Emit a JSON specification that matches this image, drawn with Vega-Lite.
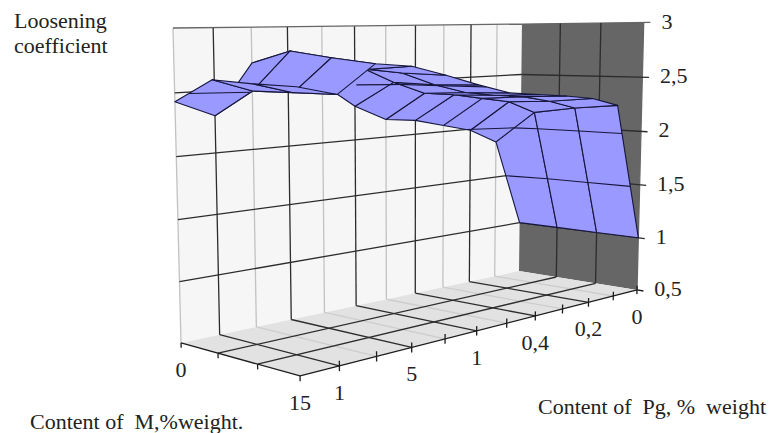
{
  "$schema": "https://vega.github.io/schema/vega-lite/v6.json",
  "description": "Perspective surface of the loosening coefficient over Pg and M content. Rows hold grid positions and coefficient values; calculate steps project them onto the page.",
  "width": 778,
  "height": 433,
  "autosize": {"type": "none", "contains": "padding"},
  "padding": 0,
  "background": "#ffffff",
  "view": {"stroke": null},
  "config": {"text": {"font": "Liberation Serif", "fontSize": 22, "fill": "#222222"}},
  "datasets": {
    "frame": [
      {"part": "back", "n": 1, "pg": 11, "m": 0, "v": 0.5},
      {"part": "back", "n": 2, "pg": 0, "m": 0, "v": 0.5},
      {"part": "back", "n": 3, "pg": 0, "m": 0, "v": 3},
      {"part": "back", "n": 4, "pg": 11, "m": 0, "v": 3},
      {"part": "side", "n": 1, "pg": 0, "m": 0, "v": 0.5},
      {"part": "side", "n": 2, "pg": 0, "m": 3, "v": 0.5},
      {"part": "side", "n": 3, "pg": 0, "m": 3, "v": 3},
      {"part": "side", "n": 4, "pg": 0, "m": 0, "v": 3},
      {"part": "floor", "n": 1, "pg": 0, "m": 0, "v": 0.5},
      {"part": "floor", "n": 2, "pg": 11, "m": 0, "v": 0.5},
      {"part": "floor", "n": 3, "pg": 11, "m": 3, "v": 0.5},
      {"part": "floor", "n": 4, "pg": 0, "m": 3, "v": 0.5}
    ],
    "grid": [
      {"kind": "floorminor", "pg": 1, "m": 0, "v": 0.5, "pg2": 1, "m2": 3, "v2": 0.5},
      {"kind": "floorminor", "pg": 3, "m": 0, "v": 0.5, "pg2": 3, "m2": 3, "v2": 0.5},
      {"kind": "floorminor", "pg": 5, "m": 0, "v": 0.5, "pg2": 5, "m2": 3, "v2": 0.5},
      {"kind": "floorminor", "pg": 7, "m": 0, "v": 0.5, "pg2": 7, "m2": 3, "v2": 0.5},
      {"kind": "floorminor", "pg": 9, "m": 0, "v": 0.5, "pg2": 9, "m2": 3, "v2": 0.5},
      {"kind": "minor", "pg": 1, "m": 0, "v": 0.5, "pg2": 1, "m2": 0, "v2": 3},
      {"kind": "minor", "pg": 3, "m": 0, "v": 0.5, "pg2": 3, "m2": 0, "v2": 3},
      {"kind": "minor", "pg": 5, "m": 0, "v": 0.5, "pg2": 5, "m2": 0, "v2": 3},
      {"kind": "minor", "pg": 7, "m": 0, "v": 0.5, "pg2": 7, "m2": 0, "v2": 3},
      {"kind": "minor", "pg": 9, "m": 0, "v": 0.5, "pg2": 9, "m2": 0, "v2": 3},
      {"kind": "minor", "pg": 11, "m": 0, "v": 0.5, "pg2": 11, "m2": 0, "v2": 3},
      {"kind": "edge", "pg": 11, "m": 0, "v": 3, "pg2": 0, "m2": 0, "v2": 3},
      {"kind": "edge", "pg": 0, "m": 0, "v": 3, "pg2": 0, "m2": 3.15, "v2": 3},
      {"kind": "edge", "pg": 0, "m": 3, "v": 0.5, "pg2": 0, "m2": 3, "v2": 3},
      {"kind": "major", "pg": 2, "m": 0, "v": 0.5, "pg2": 2, "m2": 0, "v2": 3},
      {"kind": "major", "pg": 4, "m": 0, "v": 0.5, "pg2": 4, "m2": 0, "v2": 3},
      {"kind": "major", "pg": 6, "m": 0, "v": 0.5, "pg2": 6, "m2": 0, "v2": 3},
      {"kind": "major", "pg": 8, "m": 0, "v": 0.5, "pg2": 8, "m2": 0, "v2": 3},
      {"kind": "major", "pg": 10, "m": 0, "v": 0.5, "pg2": 10, "m2": 0, "v2": 3},
      {"kind": "major", "pg": 0, "m": 1, "v": 0.5, "pg2": 0, "m2": 1, "v2": 3},
      {"kind": "major", "pg": 0, "m": 2, "v": 0.5, "pg2": 0, "m2": 2, "v2": 3},
      {"kind": "major", "pg": 11, "m": 0, "v": 1, "pg2": 0, "m2": 0, "v2": 1},
      {"kind": "major", "pg": 0, "m": 0, "v": 1, "pg2": 0, "m2": 3.15, "v2": 1},
      {"kind": "major", "pg": 11, "m": 0, "v": 1.5, "pg2": 0, "m2": 0, "v2": 1.5},
      {"kind": "major", "pg": 0, "m": 0, "v": 1.5, "pg2": 0, "m2": 3.15, "v2": 1.5},
      {"kind": "major", "pg": 11, "m": 0, "v": 2, "pg2": 0, "m2": 0, "v2": 2},
      {"kind": "major", "pg": 0, "m": 0, "v": 2, "pg2": 0, "m2": 3.15, "v2": 2},
      {"kind": "major", "pg": 11, "m": 0, "v": 2.5, "pg2": 0, "m2": 0, "v2": 2.5},
      {"kind": "major", "pg": 0, "m": 0, "v": 2.5, "pg2": 0, "m2": 3.15, "v2": 2.5},
      {"kind": "major", "pg": 0, "m": 1, "v": 0.5, "pg2": 11, "m2": 1, "v2": 0.5},
      {"kind": "major", "pg": 0, "m": 2, "v": 0.5, "pg2": 11, "m2": 2, "v2": 0.5},
      {"kind": "major", "pg": 2, "m": 0, "v": 0.5, "pg2": 2, "m2": 3, "v2": 0.5},
      {"kind": "major", "pg": 4, "m": 0, "v": 0.5, "pg2": 4, "m2": 3, "v2": 0.5},
      {"kind": "major", "pg": 6, "m": 0, "v": 0.5, "pg2": 6, "m2": 3, "v2": 0.5},
      {"kind": "major", "pg": 8, "m": 0, "v": 0.5, "pg2": 8, "m2": 3, "v2": 0.5},
      {"kind": "major", "pg": 10, "m": 0, "v": 0.5, "pg2": 10, "m2": 3, "v2": 0.5},
      {"kind": "axis", "pg": 0, "m": 3, "v": 0.5, "pg2": 11, "m2": 3, "v2": 0.5},
      {"kind": "axis", "pg": 11, "m": 0, "v": 0.5, "pg2": 11, "m2": 3, "v2": 0.5},
      {"kind": "axis", "pg": 0, "m": 3, "v": 0.5, "pg2": 0, "m2": 3.15, "v2": 0.5},
      {"kind": "axis", "pg": 0, "m": 3, "v": 0.46, "pg2": 0, "m2": 3, "v2": 0.54},
      {"kind": "axis", "pg": 1, "m": 3, "v": 0.46, "pg2": 1, "m2": 3, "v2": 0.54},
      {"kind": "axis", "pg": 2, "m": 3, "v": 0.46, "pg2": 2, "m2": 3, "v2": 0.54},
      {"kind": "axis", "pg": 3, "m": 3, "v": 0.46, "pg2": 3, "m2": 3, "v2": 0.54},
      {"kind": "axis", "pg": 4, "m": 3, "v": 0.46, "pg2": 4, "m2": 3, "v2": 0.54},
      {"kind": "axis", "pg": 5, "m": 3, "v": 0.46, "pg2": 5, "m2": 3, "v2": 0.54},
      {"kind": "axis", "pg": 6, "m": 3, "v": 0.46, "pg2": 6, "m2": 3, "v2": 0.54},
      {"kind": "axis", "pg": 7, "m": 3, "v": 0.46, "pg2": 7, "m2": 3, "v2": 0.54},
      {"kind": "axis", "pg": 8, "m": 3, "v": 0.46, "pg2": 8, "m2": 3, "v2": 0.54},
      {"kind": "axis", "pg": 9, "m": 3, "v": 0.46, "pg2": 9, "m2": 3, "v2": 0.54},
      {"kind": "axis", "pg": 10, "m": 3, "v": 0.46, "pg2": 10, "m2": 3, "v2": 0.54},
      {"kind": "axis", "pg": 11, "m": 3, "v": 0.46, "pg2": 11, "m2": 3, "v2": 0.5},
      {"kind": "axis", "pg": 11, "m": 0, "v": 0.46, "pg2": 11, "m2": 0, "v2": 0.5},
      {"kind": "axis", "pg": 11, "m": 1, "v": 0.46, "pg2": 11, "m2": 1, "v2": 0.5},
      {"kind": "axis", "pg": 11, "m": 2, "v": 0.46, "pg2": 11, "m2": 2, "v2": 0.5}
    ],
    "cells": [
      {"pg0": 0, "m0": 0, "a": 1, "b": 1.85, "c": 2.16, "d": 1, "e": 1},
      {"pg0": 0, "m0": 1, "a": 1, "b": 2.16, "c": 2.22, "d": 1, "e": 1},
      {"pg0": 0, "m0": 2, "a": 1, "b": 2.22, "c": 2.26, "d": 1, "e": 1},
      {"pg0": 1, "m0": 0, "a": 1.85, "b": 1.99, "c": 2.28, "d": 2.16, "e": 1.85},
      {"pg0": 1, "m0": 1, "a": 2.16, "b": 2.28, "c": 2.3, "d": 2.22, "e": 2.16},
      {"pg0": 1, "m0": 2, "a": 2.22, "b": 2.3, "c": 2.34, "d": 2.26, "e": 2.22},
      {"pg0": 2, "m0": 0, "a": 1.99, "b": 2.06, "c": 2.33, "d": 2.28, "e": 1.99},
      {"pg0": 2, "m0": 1, "a": 2.28, "b": 2.33, "c": 2.36, "d": 2.3, "e": 2.28},
      {"pg0": 2, "m0": 2, "a": 2.3, "b": 2.36, "c": 2.38, "d": 2.34, "e": 2.3},
      {"pg0": 3, "m0": 0, "a": 2.06, "b": 2.13, "c": 2.38, "d": 2.33, "e": 2.06},
      {"pg0": 3, "m0": 1, "a": 2.33, "b": 2.38, "c": 2.39, "d": 2.36, "e": 2.33},
      {"pg0": 3, "m0": 2, "a": 2.36, "b": 2.39, "c": 2.41, "d": 2.38, "e": 2.36},
      {"pg0": 4, "m0": 0, "a": 2.13, "b": 2.16, "c": 2.41, "d": 2.38, "e": 2.13},
      {"pg0": 4, "m0": 1, "a": 2.38, "b": 2.41, "c": 2.43, "d": 2.39, "e": 2.38},
      {"pg0": 4, "m0": 2, "a": 2.39, "b": 2.43, "c": 2.44, "d": 2.41, "e": 2.39},
      {"pg0": 5, "m0": 0, "a": 2.16, "b": 2.3, "c": 2.52, "d": 2.41, "e": 2.16},
      {"pg0": 5, "m0": 1, "a": 2.41, "b": 2.52, "c": 2.51, "d": 2.43, "e": 2.41},
      {"pg0": 5, "m0": 2, "a": 2.43, "b": 2.51, "c": 2.52, "d": 2.44, "e": 2.43},
      {"pg0": 6, "m0": 0, "a": 2.3, "b": 2.51, "c": 2.66, "d": 2.52, "e": 2.3},
      {"pg0": 6, "m0": 1, "a": 2.52, "b": 2.66, "c": 2.62, "d": 2.51, "e": 2.52},
      {"pg0": 6, "m0": 2, "a": 2.51, "b": 2.62, "c": 2.61, "d": 2.52, "e": 2.51},
      {"pg0": 7, "m0": 0, "a": 2.51, "b": 2.64, "c": 2.73, "d": 2.66, "e": 2.51},
      {"pg0": 7, "m0": 1, "a": 2.66, "b": 2.73, "c": 2.66, "d": 2.62, "e": 2.66},
      {"pg0": 7, "m0": 2, "a": 2.62, "b": 2.66, "c": 2.69, "d": 2.61, "e": 2.62},
      {"pg0": 8, "m0": 0, "a": 2.64, "b": 2.71, "c": 2.81, "d": 2.73, "e": 2.64},
      {"pg0": 8, "m0": 1, "a": 2.73, "b": 2.81, "c": 2.76, "d": 2.66, "e": 2.73},
      {"pg0": 8, "m0": 2, "a": 2.66, "b": 2.76, "c": 2.72, "d": 2.69, "e": 2.66},
      {"pg0": 9, "m0": 0, "a": 2.71, "b": 2.3, "c": 2.51, "d": 2.81, "e": 2.71},
      {"pg0": 9, "m0": 1, "a": 2.81, "b": 2.51, "c": 2.51, "d": 2.76, "e": 2.81},
      {"pg0": 9, "m0": 2, "a": 2.76, "b": 2.51, "c": 2.51, "d": 2.72, "e": 2.76},
      {"pg0": 10, "m0": 0, "a": 2.3, "b": 2.43, "c": 2.61, "d": 2.51, "e": 2.3},
      {"pg0": 10, "m0": 1, "a": 2.51, "b": 2.61, "c": 2.59, "d": 2.51, "e": 2.51},
      {"pg0": 10, "m0": 2, "a": 2.51, "b": 2.59, "c": 2.58, "d": 2.51, "e": 2.51}
    ],
    "contours": [
      {"pg": 0.588, "m": 0, "v": 1.5, "pg2": 0.431, "m2": 1, "v2": 1.5},
      {"pg": 0.431, "m": 1, "v": 1.5, "pg2": 0.41, "m2": 2, "v2": 1.5},
      {"pg": 0.41, "m": 2, "v": 1.5, "pg2": 0.397, "m2": 3, "v2": 1.5},
      {"pg": 2.14, "m": 0, "v": 2, "pg2": 1, "m2": 0.48, "v2": 2},
      {"pg": 1, "m": 0.48, "v": 2, "pg2": 0.862, "m2": 1, "v2": 2},
      {"pg": 0.862, "m": 1, "v": 2, "pg2": 0.82, "m2": 2, "v2": 2},
      {"pg": 0.82, "m": 2, "v": 2, "pg2": 0.794, "m2": 3, "v2": 2},
      {"pg": 11, "m": 0.39, "v": 2.5, "pg2": 10, "m2": 0.95, "v2": 2.5},
      {"pg": 6.48, "m": 0.445, "v": 2.5, "pg2": 6, "m2": 0.91, "v2": 2.5},
      {"pg": 6, "m": 0.91, "v": 2.5, "pg2": 5.82, "m2": 1, "v2": 2.5},
      {"pg": 5.82, "m": 1, "v": 2.5, "pg2": 5.875, "m2": 2, "v2": 2.5},
      {"pg": 5.875, "m": 2, "v": 2.5, "pg2": 5.75, "m2": 3, "v2": 2.5}
    ],
    "valueLabels": [
      {"label": "0,5", "pg": 0, "m": 3.4, "v": 0.5},
      {"label": "1", "pg": 0, "m": 3.4, "v": 1},
      {"label": "1,5", "pg": 0, "m": 3.4, "v": 1.5},
      {"label": "2", "pg": 0, "m": 3.4, "v": 2},
      {"label": "2,5", "pg": 0, "m": 3.4, "v": 2.5},
      {"label": "3", "pg": 0, "m": 3.4, "v": 3}
    ],
    "floorLabels": [
      {"label": "0", "pg": 0, "m": 3, "v": 0.5},
      {"label": "0,2", "pg": 2, "m": 3, "v": 0.5},
      {"label": "0,4", "pg": 4, "m": 3, "v": 0.5},
      {"label": "1", "pg": 6, "m": 3, "v": 0.5},
      {"label": "5", "pg": 8, "m": 3, "v": 0.5},
      {"label": "1", "pg": 10, "m": 3, "v": 0.5},
      {"label": "0", "pg": 11, "m": 0, "v": 0.5},
      {"label": "15", "pg": 11, "m": 3, "v": 0.5}
    ]
  },
  "encoding": {
    "x": {"field": "sx", "type": "quantitative", "scale": {"domain": [0, 778], "nice": false, "zero": false}, "axis": null},
    "y": {"field": "sy", "type": "quantitative", "scale": {"domain": [433, 0], "nice": false, "zero": false}, "axis": null}
  },
  "layer": [
    {
      "data": {"name": "frame"},
      "transform": [
        {"calculate": "(519-378.7*datum.pg/11+69.3*datum.m/3-10.8*(datum.v-0.5)/2.5)/(1-0.225*datum.pg/11-0.07646*datum.m/3-0.0264*(datum.v-0.5)/2.5)", "as": "sx"},
        {"calculate": "(271-5.2*datum.pg/11-3.2*datum.m/3-247.6*(datum.v-0.5)/2.5)/(1-0.225*datum.pg/11-0.07646*datum.m/3-0.0264*(datum.v-0.5)/2.5)+3.7*(datum.pg/11)*(datum.v-0.5)/2.5", "as": "sy"}
      ],
      "mark": {"type": "line", "strokeWidth": 0},
      "encoding": {
        "order": {"field": "n", "type": "quantitative"},
        "fill": {"field": "part", "type": "nominal", "scale": {"domain": ["back", "side", "floor"], "range": ["#f6f6f6", "#666666", "#e2e2e2"]}, "legend": null}
      }
    },
    {
      "data": {"name": "grid"},
      "transform": [
        {"calculate": "(519-378.7*datum.pg/11+69.3*datum.m/3-10.8*(datum.v-0.5)/2.5)/(1-0.225*datum.pg/11-0.07646*datum.m/3-0.0264*(datum.v-0.5)/2.5)", "as": "sx"},
        {"calculate": "(271-5.2*datum.pg/11-3.2*datum.m/3-247.6*(datum.v-0.5)/2.5)/(1-0.225*datum.pg/11-0.07646*datum.m/3-0.0264*(datum.v-0.5)/2.5)+3.7*(datum.pg/11)*(datum.v-0.5)/2.5", "as": "sy"},
        {"calculate": "(519-378.7*datum.pg2/11+69.3*datum.m2/3-10.8*(datum.v2-0.5)/2.5)/(1-0.225*datum.pg2/11-0.07646*datum.m2/3-0.0264*(datum.v2-0.5)/2.5)", "as": "sx2"},
        {"calculate": "(271-5.2*datum.pg2/11-3.2*datum.m2/3-247.6*(datum.v2-0.5)/2.5)/(1-0.225*datum.pg2/11-0.07646*datum.m2/3-0.0264*(datum.v2-0.5)/2.5)+3.7*(datum.pg2/11)*(datum.v2-0.5)/2.5", "as": "sy2"}
      ],
      "mark": {"type": "rule", "strokeWidth": 1.3},
      "encoding": {
        "x2": {"field": "sx2"},
        "y2": {"field": "sy2"},
        "color": {"field": "kind", "type": "nominal", "scale": {"domain": ["floorminor", "minor", "edge", "major", "axis"], "range": ["#cdcdcd", "#c2c2c2", "#666666", "#2c2c2c", "#1c1c1c"]}, "legend": null}
      }
    },
    {
      "data": {"name": "cells"},
      "transform": [
        {"fold": ["a", "b", "c", "d", "e"], "as": ["corner", "v"]},
        {"calculate": "datum.pg0+(datum.corner==='b'||datum.corner==='c'?1:0)", "as": "pg"},
        {"calculate": "datum.m0+(datum.corner==='c'||datum.corner==='d'?1:0)", "as": "m"},
        {"calculate": "datum.pg0+'-'+datum.m0", "as": "cell"},
        {"calculate": "(519-378.7*datum.pg/11+69.3*datum.m/3-10.8*(datum.v-0.5)/2.5)/(1-0.225*datum.pg/11-0.07646*datum.m/3-0.0264*(datum.v-0.5)/2.5)", "as": "sx"},
        {"calculate": "(271-5.2*datum.pg/11-3.2*datum.m/3-247.6*(datum.v-0.5)/2.5)/(1-0.225*datum.pg/11-0.07646*datum.m/3-0.0264*(datum.v-0.5)/2.5)+3.7*(datum.pg/11)*(datum.v-0.5)/2.5", "as": "sy"}
      ],
      "mark": {"type": "line", "fill": "#9999ff", "stroke": "#16163c", "strokeWidth": 1.1, "strokeJoin": "round"},
      "encoding": {
        "detail": {"field": "cell", "type": "nominal"},
        "order": {"field": "corner", "type": "ordinal"}
      }
    },
    {
      "data": {"name": "contours"},
      "transform": [
        {"calculate": "(519-378.7*datum.pg/11+69.3*datum.m/3-10.8*(datum.v-0.5)/2.5)/(1-0.225*datum.pg/11-0.07646*datum.m/3-0.0264*(datum.v-0.5)/2.5)", "as": "sx"},
        {"calculate": "(271-5.2*datum.pg/11-3.2*datum.m/3-247.6*(datum.v-0.5)/2.5)/(1-0.225*datum.pg/11-0.07646*datum.m/3-0.0264*(datum.v-0.5)/2.5)+3.7*(datum.pg/11)*(datum.v-0.5)/2.5", "as": "sy"},
        {"calculate": "(519-378.7*datum.pg2/11+69.3*datum.m2/3-10.8*(datum.v2-0.5)/2.5)/(1-0.225*datum.pg2/11-0.07646*datum.m2/3-0.0264*(datum.v2-0.5)/2.5)", "as": "sx2"},
        {"calculate": "(271-5.2*datum.pg2/11-3.2*datum.m2/3-247.6*(datum.v2-0.5)/2.5)/(1-0.225*datum.pg2/11-0.07646*datum.m2/3-0.0264*(datum.v2-0.5)/2.5)+3.7*(datum.pg2/11)*(datum.v2-0.5)/2.5", "as": "sy2"}
      ],
      "mark": {"type": "rule", "stroke": "#16163c", "strokeWidth": 1.1},
      "encoding": {
        "x2": {"field": "sx2"},
        "y2": {"field": "sy2"}
      }
    },
    {
      "data": {"name": "valueLabels"},
      "transform": [
        {"calculate": "(519-378.7*datum.pg/11+69.3*datum.m/3-10.8*(datum.v-0.5)/2.5)/(1-0.225*datum.pg/11-0.07646*datum.m/3-0.0264*(datum.v-0.5)/2.5)", "as": "sx"},
        {"calculate": "(271-5.2*datum.pg/11-3.2-247.6*(datum.v-0.5)/2.5)/(1-0.225*datum.pg/11-0.07646-0.0264*(datum.v-0.5)/2.5)", "as": "sy"}
      ],
      "mark": {"type": "text", "align": "left", "baseline": "middle", "dy": -1},
      "encoding": {"text": {"field": "label", "type": "nominal"}}
    },
    {
      "data": {"name": "floorLabels"},
      "transform": [
        {"calculate": "(519-378.7*datum.pg/11+69.3*datum.m/3-10.8*(datum.v-0.5)/2.5)/(1-0.225*datum.pg/11-0.07646*datum.m/3-0.0264*(datum.v-0.5)/2.5)", "as": "sx"},
        {"calculate": "(271-5.2*datum.pg/11-3.2*datum.m/3-247.6*(datum.v-0.5)/2.5)/(1-0.225*datum.pg/11-0.07646*datum.m/3-0.0264*(datum.v-0.5)/2.5)", "as": "sy"}
      ],
      "mark": {"type": "text", "align": "center", "baseline": "middle", "dy": 27},
      "encoding": {"text": {"field": "label", "type": "nominal"}}
    },
    {
      "data": {"values": [{"label": "Loosening\ncoefficient", "pg": 11, "m": 0, "v": 3}]},
      "transform": [
        {"calculate": "(519-378.7*datum.pg/11+69.3*datum.m/3-10.8*(datum.v-0.5)/2.5)/(1-0.225*datum.pg/11-0.07646*datum.m/3-0.0264*(datum.v-0.5)/2.5)", "as": "sx"},
        {"calculate": "(271-5.2*datum.pg/11-3.2*datum.m/3-247.6*(datum.v-0.5)/2.5)/(1-0.225*datum.pg/11-0.07646*datum.m/3-0.0264*(datum.v-0.5)/2.5)", "as": "sy"}
      ],
      "mark": {"type": "text", "align": "left", "baseline": "alphabetic", "lineBreak": "\n", "lineHeight": 25, "dx": -159, "dy": 4},
      "encoding": {"text": {"field": "label", "type": "nominal"}}
    },
    {
      "data": {"values": [{"label": "Content of\u00a0\u00a0M,%weight.", "pg": 11, "m": 3, "v": 0.5}]},
      "transform": [
        {"calculate": "(519-378.7*datum.pg/11+69.3*datum.m/3-10.8*(datum.v-0.5)/2.5)/(1-0.225*datum.pg/11-0.07646*datum.m/3-0.0264*(datum.v-0.5)/2.5)", "as": "sx"},
        {"calculate": "(271-5.2*datum.pg/11-3.2*datum.m/3-247.6*(datum.v-0.5)/2.5)/(1-0.225*datum.pg/11-0.07646*datum.m/3-0.0264*(datum.v-0.5)/2.5)", "as": "sy"}
      ],
      "mark": {"type": "text", "align": "left", "baseline": "alphabetic", "dx": -270, "dy": 53},
      "encoding": {"text": {"field": "label", "type": "nominal"}}
    },
    {
      "data": {"values": [{"label": "Content of\u00a0\u00a0Pg, %\u00a0\u00a0weight", "pg": 0, "m": 3, "v": 0.5}]},
      "transform": [
        {"calculate": "(519-378.7*datum.pg/11+69.3*datum.m/3-10.8*(datum.v-0.5)/2.5)/(1-0.225*datum.pg/11-0.07646*datum.m/3-0.0264*(datum.v-0.5)/2.5)", "as": "sx"},
        {"calculate": "(271-5.2*datum.pg/11-3.2*datum.m/3-247.6*(datum.v-0.5)/2.5)/(1-0.225*datum.pg/11-0.07646*datum.m/3-0.0264*(datum.v-0.5)/2.5)", "as": "sy"}
      ],
      "mark": {"type": "text", "align": "right", "baseline": "alphabetic", "dx": 129, "dy": 124},
      "encoding": {"text": {"field": "label", "type": "nominal"}}
    }
  ]
}
